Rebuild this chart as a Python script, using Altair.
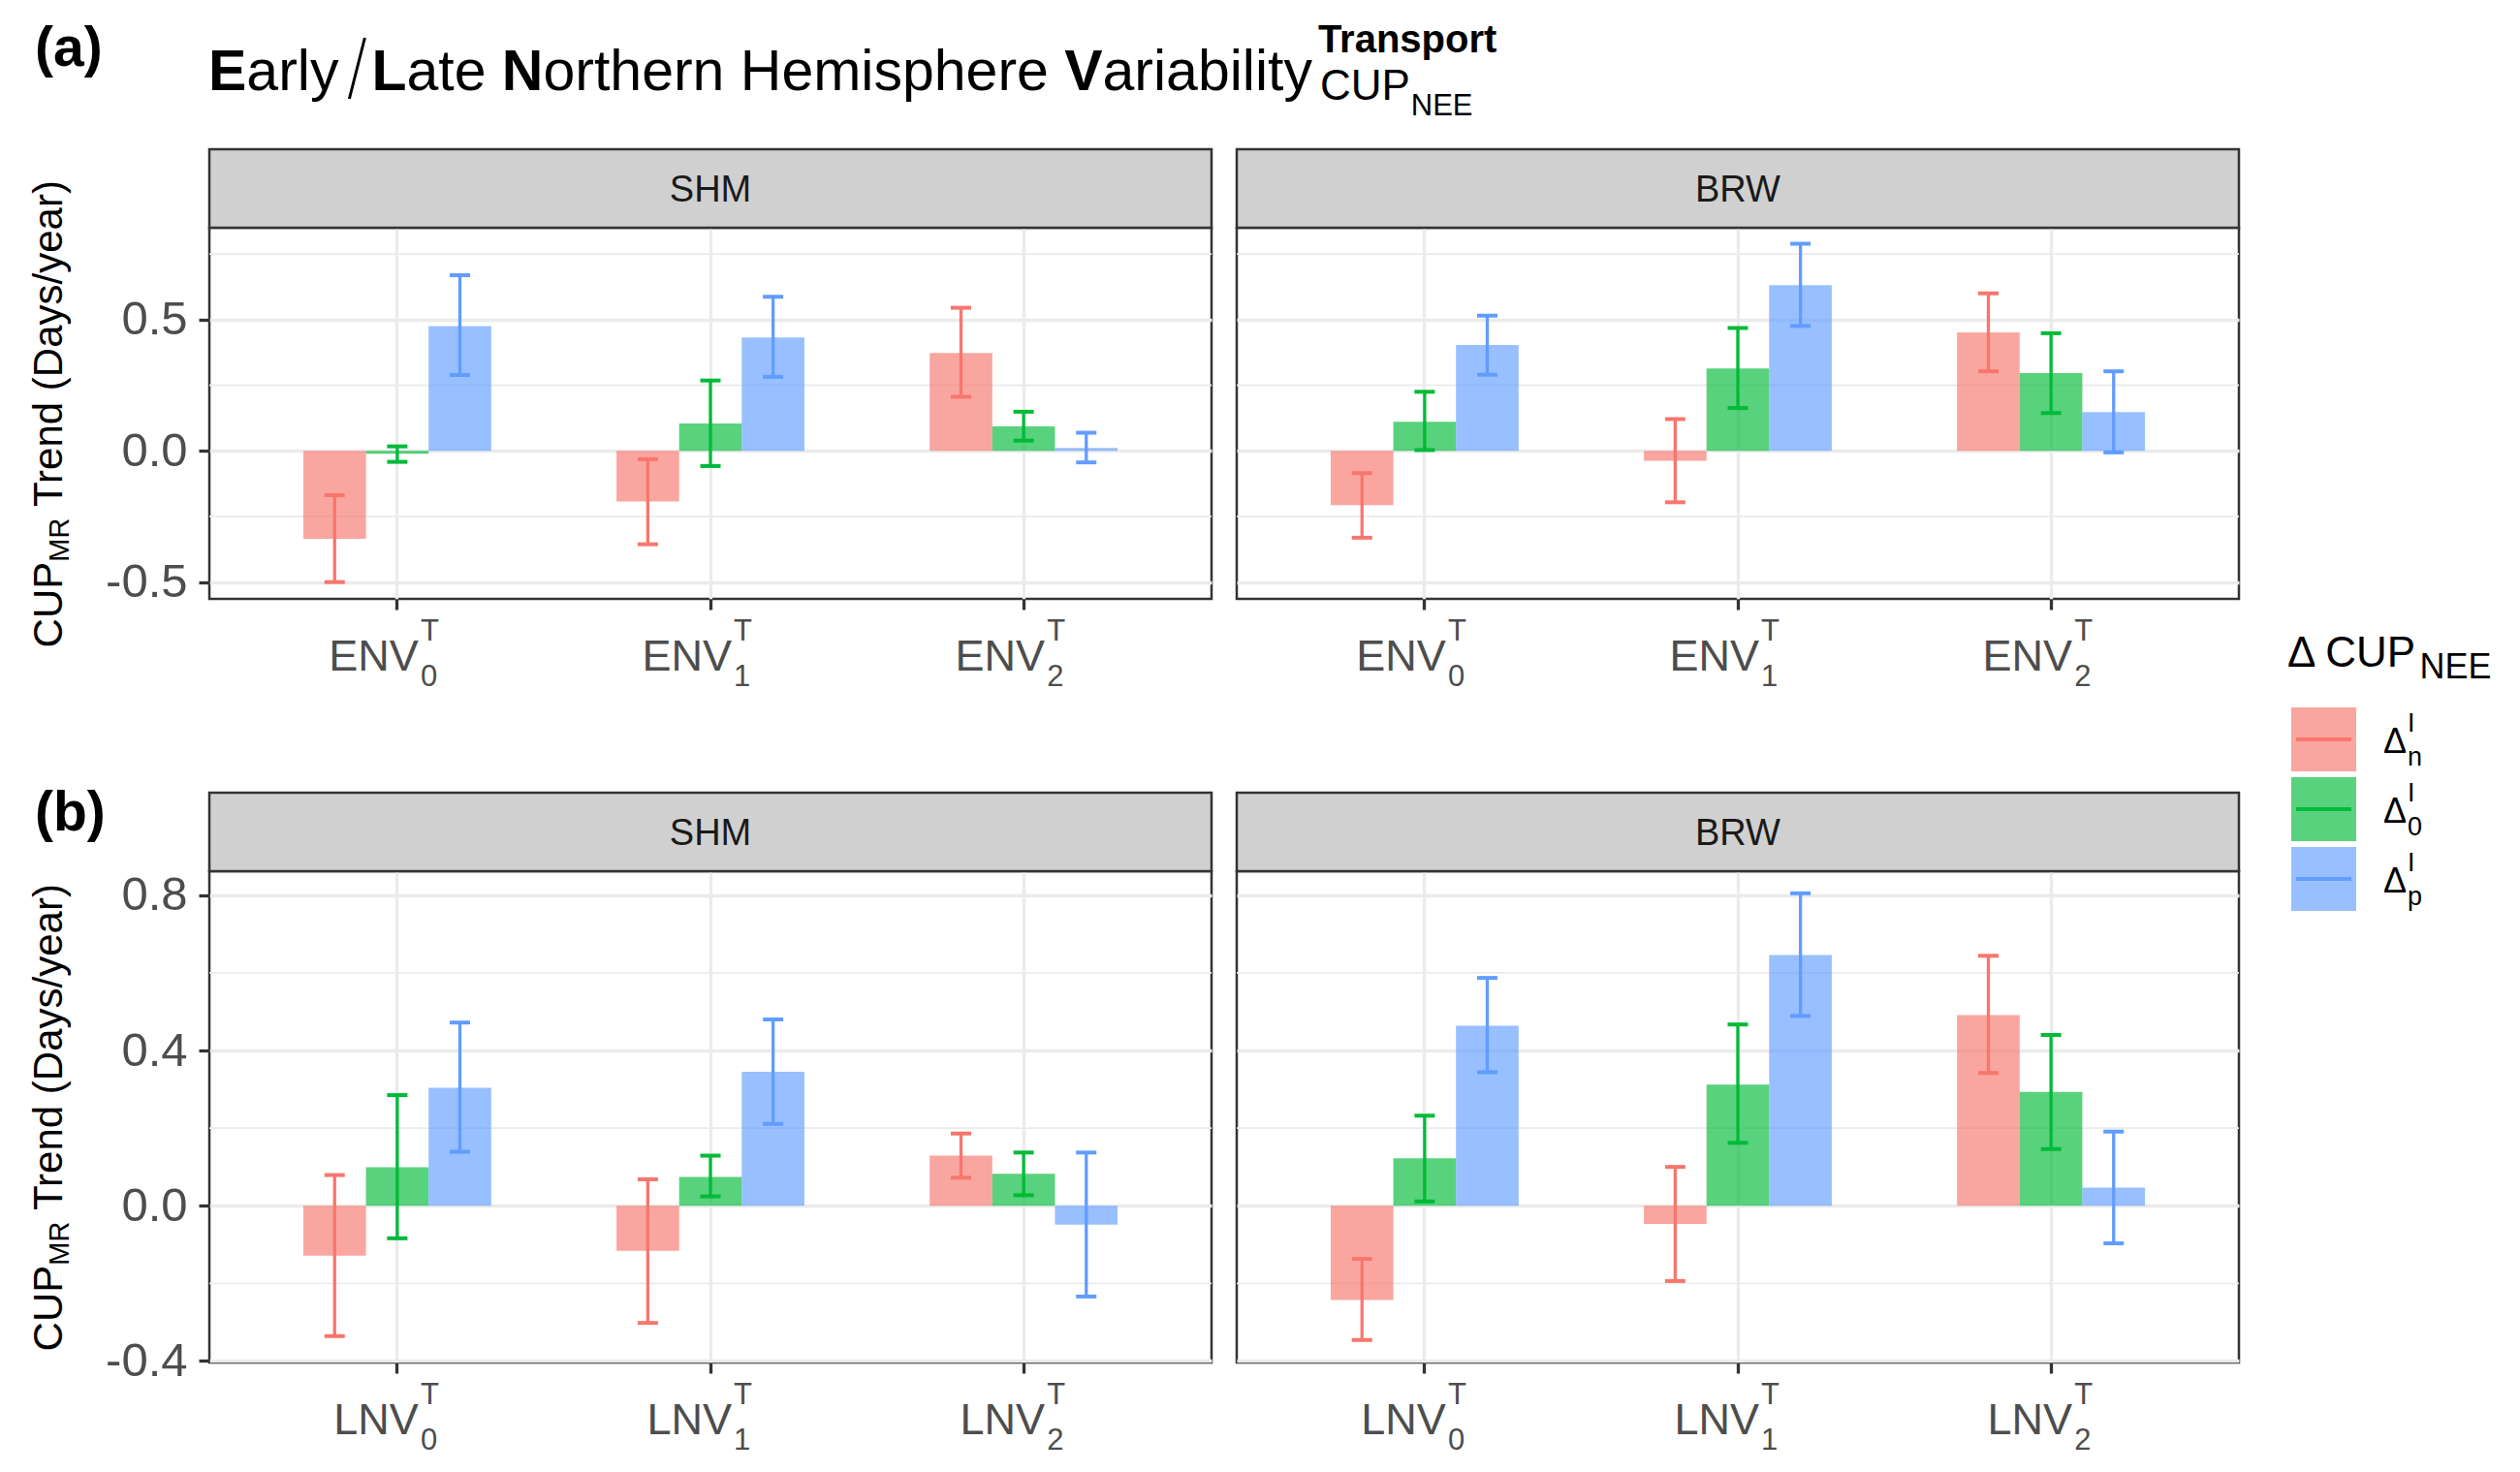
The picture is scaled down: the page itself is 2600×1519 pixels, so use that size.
import altair as alt
import pandas as pd

FONT = "Liberation Sans"

# ---------------- data ----------------
sites = ["SHM", "BRW"]
series = ["n", "0", "p"]
series_colors = ["#F8766D", "#00BA38", "#619CFF"]
sub_labels = ["0", "1", "2"]
row_a_base = "ENV"
row_b_base = "LNV"
row_a_cats = ["ENV0", "ENV1", "ENV2"]
row_b_cats = ["LNV0", "LNV1", "LNV2"]

# order: cat0 (n,0,p), cat1 (n,0,p), cat2 (n,0,p)
a_shm_val = [-0.335, -0.011, 0.475, -0.193, 0.104, 0.432, 0.373, 0.093, 0.011]
a_shm_lo = [-0.500, -0.042, 0.289, -0.356, -0.058, 0.282, 0.206, 0.039, -0.044]
a_shm_hi = [-0.169, 0.017, 0.669, -0.032, 0.268, 0.587, 0.545, 0.149, 0.069]
a_brw_val = [-0.207, 0.111, 0.403, -0.038, 0.314, 0.631, 0.451, 0.296, 0.148]
a_brw_lo = [-0.331, 0.003, 0.290, -0.196, 0.163, 0.476, 0.303, 0.144, -0.006]
a_brw_hi = [-0.085, 0.225, 0.515, 0.121, 0.468, 0.789, 0.600, 0.448, 0.303]
b_shm_val = [-0.129, 0.099, 0.304, -0.116, 0.074, 0.345, 0.129, 0.082, -0.049]
b_shm_lo = [-0.336, -0.084, 0.139, -0.302, 0.024, 0.211, 0.072, 0.027, -0.234]
b_shm_hi = [0.079, 0.285, 0.472, 0.068, 0.129, 0.480, 0.186, 0.137, 0.137]
b_brw_val = [-0.243, 0.122, 0.464, -0.047, 0.312, 0.646, 0.491, 0.293, 0.047]
b_brw_lo = [-0.346, 0.011, 0.344, -0.194, 0.162, 0.489, 0.342, 0.146, -0.097]
b_brw_hi = [-0.137, 0.232, 0.587, 0.100, 0.467, 0.805, 0.644, 0.440, 0.191]

a_major = [-0.5, 0.0, 0.5]
a_minor = [-0.25, 0.25, 0.75]
b_major = [-0.4, 0.0, 0.4, 0.8]
b_minor = [-0.2, 0.2, 0.6]
a_domain = [-0.564, 0.85]
b_domain = [-0.404, 0.862]

title_parts = [("E", "bold"), ("arly", "reg"), ("/", "slash"), ("L", "bold"),
               ("ate ", "reg"), ("N", "bold"), ("orthern ", "reg"),
               ("Hemisphere ", "reg"), ("V", "bold"), ("ariability", "reg")]
title_sup = "Transport"
title_sub = "CUP"
title_subsub = "NEE"
ytitle_main = "CUP"
ytitle_sub = "MR"
ytitle_rest = "Trend (Days/year)"
legend_title_main = "\u0394 CUP"
legend_title_sub = "NEE"
legend_delta = "\u0394"
legend_sup = "I"

# ---------------- layout helpers ----------------
W_REG = {' ': 278, 'a': 556, 'b': 556, 'c': 500, 'd': 556, 'e': 556, 'h': 556, 'i': 222,
         'l': 222, 'm': 833, 'n': 556, 'o': 556, 'p': 556, 'r': 333, 's': 500, 't': 278,
         'y': 500, '/': 278, '(': 333, ')': 333, 'C': 722, 'U': 722, 'P': 667, 'M': 833,
         'R': 722, 'T': 611, 'D': 722, 'H': 722, 'E': 667, 'N': 722, 'L': 556, 'V': 667,
         '\u0394': 668}
W_BOLD = {'E': 667, 'L': 611, 'N': 722, 'V': 667, 'T': 611, 'r': 389, 'a': 556, 'n': 611,
          's': 556, 'p': 611, 'o': 611, 't': 333, '(': 333, ')': 333}


def tw(s, size, bold=False):
    tbl = W_BOLD if bold else W_REG
    return sum(tbl.get(ch, W_REG.get(ch, 556)) for ch in s) * size / 1000.0


def text_layer(txt, x, y, size, bold=False, color="#000000", align="left", angle=None):
    kw = dict(font=FONT, fontSize=size, fontWeight="bold" if bold else "normal",
              color=color, align=align, baseline="alphabetic")
    if angle is not None:
        kw["angle"] = angle
    return alt.Chart(pd.DataFrame({"t": [txt]})).mark_text(**kw).encode(
        text="t:N", x=alt.value(x), y=alt.value(y))


PW = 1034
HA, HB = 383, 507
STRIP = 81
GRID = "#EBEBEB"
DARK = "#333333"

label_expr = ("datum.value < 0 ? '-' + format(-datum.value, '.1f') : format(datum.value, '.1f')")


def ytitle_layers(H):
    F, f = 42, 29
    w1 = tw(ytitle_main, F)
    w2 = tw(ytitle_sub, f)
    gap = tw(" ", F)
    w3 = tw(ytitle_rest, F)
    total = w1 + w2 + gap + w3
    y0 = H / 2 + total / 2
    xb = -152
    return [
        text_layer(ytitle_main, xb, y0, F, angle=270),
        text_layer(ytitle_sub, xb + 7, y0 - w1, f, angle=270),
        text_layer(ytitle_rest, xb, y0 - w1 - w2 - gap, F, angle=270),
    ]


def title_layers():
    layers = []
    TF = 59
    TY = -142
    x = -1.0
    for txt, style in title_parts:
        if style == "slash":
            layers.append(alt.Chart(pd.DataFrame({"t": [txt]})).mark_rule(
                color="#000000", strokeWidth=3).encode(
                x=alt.value(x + 11), x2=alt.value(x + 27),
                y=alt.value(TY + 9), y2=alt.value(TY - 54)))
            x += 34
        else:
            b = style == "bold"
            layers.append(text_layer(txt, x, TY, TF, bold=b))
            x += tw(txt, TF, b)
    layers.append(text_layer(title_sup, x + 6, -181, 40, bold=True))
    layers.append(text_layer(title_sub, x + 8, -132, 44))
    layers.append(text_layer(title_subsub, x + 8 + tw(title_sub, 44) + 1, -116, 31))
    return layers


def panel(site, cats, base_label, val, lo, hi, domain, major, minor, H, first, extras):
    rows = []
    for i, c in enumerate(cats):
        for j, s in enumerate(series):
            k = 3 * i + j
            rows.append(dict(cat=c, series=s, val=val[k], lo=lo[k], hi=hi[k]))
    df = pd.DataFrame(rows)

    xsc = alt.Scale(domain=cats, paddingInner=0.4, paddingOuter=0.3)
    xax = alt.Axis(title=None, labels=False, domain=False, ticks=True, tickSize=11,
                   tickWidth=3.3, tickColor=DARK, grid=True, gridColor=GRID, gridWidth=3.3)
    X = alt.X("cat:N", scale=xsc, axis=xax)
    XO = alt.XOffset("series:N", scale=alt.Scale(domain=series, paddingInner=0, paddingOuter=0))
    ysc = alt.Scale(domain=domain, nice=False, zero=False)
    yax = alt.Axis(title=None, values=major, domain=False, grid=True, gridColor=GRID,
                   gridWidth=3.3, ticks=first, labels=first, tickSize=11, tickWidth=3.3,
                   tickColor=DARK, labelFont=FONT, labelFontSize=49, labelColor="#4D4D4D",
                   labelPadding=12, labelExpr=label_expr)
    C = alt.Color("series:N", scale=alt.Scale(domain=series, range=series_colors), legend=None)

    base = alt.Chart(df)
    minor_rule = alt.Chart(pd.DataFrame({"m": minor})).mark_rule(
        color=GRID, strokeWidth=1.8).encode(y=alt.Y("m:Q", scale=ysc, axis=yax))
    bars = base.mark_bar(opacity=0.65).encode(
        x=X, xOffset=XO, y=alt.Y("val:Q", scale=ysc, axis=yax), y2=alt.datum(0), color=C)
    err = base.mark_rule(strokeWidth=3.3).encode(
        x=X, xOffset=XO, y=alt.Y("lo:Q", scale=ysc, axis=yax), y2="hi:Q", color=C)
    cap_lo = base.mark_tick(thickness=4, size=21, opacity=1).encode(
        x=X, xOffset=XO, y=alt.Y("lo:Q", scale=ysc, axis=yax), color=C)
    cap_hi = base.mark_tick(thickness=4, size=21, opacity=1).encode(
        x=X, xOffset=XO, y=alt.Y("hi:Q", scale=ysc, axis=yax), color=C)

    sdf = pd.DataFrame({"site": [site]})
    strip = alt.Chart(sdf).mark_rect(fill="#D0D0D0", stroke=DARK, strokeWidth=2.5).encode(
        x=alt.value(0), x2=alt.value(PW), y=alt.value(-STRIP), y2=alt.value(0))
    strip_txt = alt.Chart(sdf).mark_text(font=FONT, fontSize=38, color="#1A1A1A",
                                         baseline="alphabetic").encode(
        text="site:N", x=alt.value(PW / 2), y=alt.value(-27))

    lab = pd.DataFrame({"cat": cats, "base": [base_label] * 3, "sub": sub_labels,
                        "sup": ["T"] * 3})
    lc = alt.Chart(lab)
    xl_base = lc.mark_text(font=FONT, fontSize=45, color="#4D4D4D", align="right",
                           baseline="alphabetic", dx=22).encode(
        x=X, y=alt.value(H + 74), text="base:N")
    xl_sub = lc.mark_text(font=FONT, fontSize=31, color="#4D4D4D", align="left",
                          baseline="alphabetic", dx=24).encode(
        x=X, y=alt.value(H + 90), text="sub:N")
    xl_sup = lc.mark_text(font=FONT, fontSize=31, color="#4D4D4D", align="left",
                          baseline="alphabetic", dx=24).encode(
        x=X, y=alt.value(H + 43), text="sup:N")

    layers = [minor_rule, bars, err, cap_lo, cap_hi, strip, strip_txt,
              xl_base, xl_sub, xl_sup] + extras
    return alt.layer(*layers).properties(width=PW, height=H)


def legend_chart():
    ldf = pd.DataFrame({"s": series, "d": [legend_delta] * 3, "sub": series,
                        "sup": [legend_sup] * 3})
    lys = alt.Scale(domain=series, range=[495, 705], paddingInner=6 / 72, paddingOuter=0)
    Y = alt.Y("s:N", scale=lys, axis=None)
    YC = alt.Y("s:N", scale=lys, axis=None, bandPosition=0.5)
    C = alt.Color("s:N", scale=alt.Scale(domain=series, range=series_colors), legend=None)
    lc = alt.Chart(ldf)
    keys = lc.mark_rect(opacity=0.65).encode(x=alt.value(28), x2=alt.value(95), y=Y, color=C)
    lines = lc.mark_rule(strokeWidth=4).encode(x=alt.value(33), x2=alt.value(90), y=YC, color=C)
    d_txt = lc.mark_text(font=FONT, fontSize=36, color="#000000", align="left",
                         baseline="alphabetic", dy=14).encode(
        x=alt.value(123), y=YC, text="d:N")
    sub_txt = lc.mark_text(font=FONT, fontSize=27, color="#000000", align="left",
                           baseline="alphabetic", dy=27).encode(
        x=alt.value(148), y=YC, text="sub:N")
    sup_txt = lc.mark_text(font=FONT, fontSize=27, color="#000000", align="left",
                           baseline="alphabetic", dy=-8).encode(
        x=alt.value(148), y=YC, text="sup:N")
    TFz = 44
    t1 = text_layer(legend_title_main, 24, 453, TFz)
    t2 = text_layer(legend_title_sub, 24 + tw(legend_title_main, TFz) + 2, 465, 36)
    return alt.layer(keys, lines, d_txt, sub_txt, sup_txt, t1, t2).properties(
        width=200, height=HA, view=alt.ViewBackground(strokeOpacity=0))


extras_a = ytitle_layers(HA) + [text_layer("(a)", -180, -167, 57, bold=True)] + title_layers()
extras_b = ytitle_layers(HB) + [text_layer("(b)", -180, -42, 57, bold=True)]

pa_shm = panel(sites[0], row_a_cats, row_a_base, a_shm_val, a_shm_lo, a_shm_hi,
               a_domain, a_major, a_minor, HA, True, extras_a)
pa_brw = panel(sites[1], row_a_cats, row_a_base, a_brw_val, a_brw_lo, a_brw_hi,
               a_domain, a_major, a_minor, HA, False, [])
pb_shm = panel(sites[0], row_b_cats, row_b_base, b_shm_val, b_shm_lo, b_shm_hi,
               b_domain, b_major, b_minor, HB, True, extras_b)
pb_brw = panel(sites[1], row_b_cats, row_b_base, b_brw_val, b_brw_lo, b_brw_hi,
               b_domain, b_major, b_minor, HB, False, [])

rowA = alt.hconcat(pa_shm, pa_brw, legend_chart(), spacing=26, bounds="flush").resolve_scale(
    x="independent", y="independent")
rowB = alt.hconcat(pb_shm, pb_brw, spacing=26, bounds="flush").resolve_scale(
    x="independent", y="independent")

chart = alt.vconcat(rowA, rowB, spacing=664, bounds="flush").resolve_scale(
    x="independent", y="independent").properties(
    padding={"left": 20, "top": 12, "right": 5, "bottom": 5},
    background="white",
).configure_view(stroke=DARK, strokeWidth=2.5)

chart.save("out.html", embed_options={"renderer": "svg", "actions": False})
